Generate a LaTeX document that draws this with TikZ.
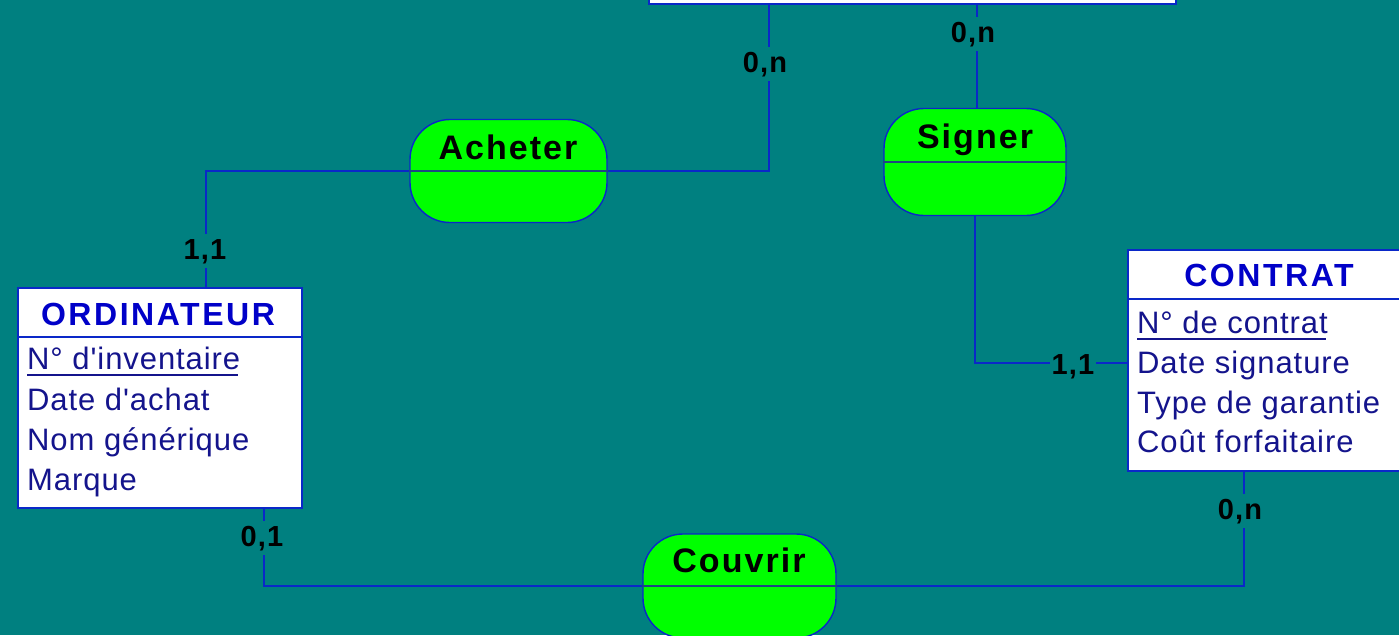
\documentclass[tikz,border=0pt]{standalone}
\usepackage{fontspec}
\setmainfont{Liberation Sans}
\newfontfamily\attrfont[LetterSpace=3]{Liberation Sans}
\newfontfamily\titlefont[LetterSpace=8]{Liberation Sans}
\newfontfamily\relfont[LetterSpace=6]{Liberation Sans}
\newfontfamily\cardfont[LetterSpace=4]{Liberation Sans}
\definecolor{bg}{RGB}{0,128,128}
\definecolor{lnk}{RGB}{10,40,200}
\definecolor{relg}{RGB}{0,255,0}
\definecolor{attrc}{RGB}{20,20,140}
\definecolor{ttlc}{RGB}{0,0,200}
\definecolor{divc}{RGB}{30,70,130}
\tikzset{
 link/.style={draw=lnk, line width=2.2pt},
 entbox/.style={draw=lnk, fill=white, line width=2.2pt, anchor=north west, inner sep=0pt},
 rel/.style={draw=lnk, fill=relg, line width=1.4pt, rounded corners=40pt, inner sep=0pt},
 divider/.style={draw=divc, line width=1.8pt},
 attr/.style={anchor=base west, inner sep=0pt, text=attrc, font=\attrfont\fontsize{31}{36}\selectfont},
 ttl/.style={anchor=base, inner sep=0pt, text=ttlc, font=\titlefont\bfseries\fontsize{32}{36}\selectfont},
 relname/.style={anchor=base, inner sep=0pt, font=\relfont\bfseries\fontsize{34}{38}\selectfont},
 card/.style={anchor=base, fill=bg, inner xsep=2pt, inner ysep=5pt, font=\cardfont\bfseries\fontsize{29}{32}\selectfont},
 keyline/.style={draw=attrc, line width=1.8pt},
}
\begin{document}
\begin{tikzpicture}[x=1pt, y=-1pt]
\useasboundingbox (0,0) rectangle (1399,635);
\clip (0,0) rectangle (1399,635);
\fill[bg] (0,0) rectangle (1399,635);

% top entity (partially visible)
\node[entbox, minimum width=527, minimum height=40] (topent) at (648,-37) {};

% ORDINATEUR
\node[entbox, minimum width=284, minimum height=220] (ord) at (17,287) {};
\draw[link] (17,337) -- (301,337);
\node[ttl] (ordt) at (158,325) {ORDINATEUR};
\node[attr] (o1) at (27,369) {N° d'inventaire};
\draw[keyline] ([yshift=-6pt]o1.base west) -- ([yshift=-6pt,xshift=-2pt]o1.base east);
\node[attr] (o2) at (27,410) {Date d'achat};
\node[attr] (o3) at (27,450) {Nom générique};
\node[attr] (o4) at (27,490) {Marque};

% CONTRAT
\node[entbox, minimum width=284, minimum height=221] (con) at (1127,249) {};
\draw[link] (1127,299) -- (1411,299);
\node[ttl] (cont) at (1269,286) {CONTRAT};
\node[attr] (c1) at (1137,333) {N° de contrat};
\draw[keyline] ([yshift=-6pt]c1.base west) -- ([yshift=-6pt,xshift=-2pt]c1.base east);
\node[attr] (c2) at (1137,373) {Date signature};
\node[attr] (c3) at (1137,413) {Type de garantie};
\node[attr] (c4) at (1137,452) {Coût forfaitaire};

% relationships
\node[rel, minimum width=197, minimum height=103] (ach) at (508.5,171) {};
\draw[divider] (ach.west) -- (ach.east);
\node[relname] at (508,159) {Acheter};

\node[rel, minimum width=182, minimum height=107] (sig) at (975,162) {};
\draw[divider] (sig.west) -- (sig.east);
\node[relname] at (975,148) {Signer};

\node[rel, minimum width=193, minimum height=104] (couv) at (739.5,586) {};
\draw[divider] (couv.west) -- (couv.east);
\node[relname] at (739,572) {Couvrir};

% connection points
\coordinate (tA) at (769,3);
\coordinate (tS) at (977,3);
\coordinate (oT) at (206,287);
\coordinate (oB) at (264,507);
\coordinate (cL) at (1127,363);
\coordinate (cB) at (1244,470);

% connectors
\draw[link] (tA) |- (ach.east);
\draw[link] (tS) -- (tS |- sig.north);
\draw[link] (ach.west) -| (oT);
\draw[link] (sig.south) |- (cL);
\draw[link] (oB) |- (couv.west);
\draw[link] (cB) |- (couv.east);

% cardinalities
\node[card] (k1) at (765,72) {0,n};
\node[card] (k2) at (973,42) {0,n};
\node[card] (k3) at (205,259) {1,1};
\node[card, inner ysep=1pt] (k4) at (1073,374) {1,1};
\node[card] (k5) at (262,546) {0,1};
\node[card] (k6) at (1240,519) {0,n};
\end{tikzpicture}
\end{document}
